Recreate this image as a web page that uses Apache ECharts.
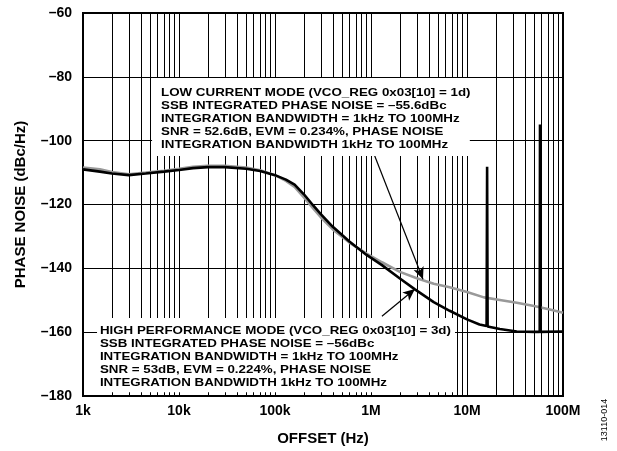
<!DOCTYPE html>
<html>
<head>
<meta charset="utf-8">
<script src="https://cdn.jsdelivr.net/npm/echarts@6/dist/echarts.min.js"></script>
<style>
  html, body { margin: 0; padding: 0; background: #fff; }
  #chart { width: 617px; height: 451px; }
</style>
</head>
<body>
<div id="chart"></div>
<script>
// High performance mode (black trace), offset frequency in Hz and phase noise in dBc/Hz
const hpFreq = [1000, 1500, 2000, 3000, 4500, 7000, 10000, 14000, 20000, 30000, 50000, 70000,
  100000, 130000, 160000, 200000, 250000, 300000, 400000, 600000, 900000, 1300000, 2000000,
  2870000, 4500000, 6600000, 10000000, 13500000, 16000000, 16200000, 16400000, 22000000,
  33000000, 50000000, 57200000, 57600000, 58000000, 100000000];
const hpNoise = [-109.0, -109.7, -110.3, -110.8, -110.3, -109.7, -109.2, -108.6, -108.3, -108.3,
  -108.8, -109.5, -110.8, -112.2, -113.8, -116.8, -120.3, -123.0, -127.0, -131.7, -135.8, -139.0,
  -143.2, -146.6, -150.6, -153.3, -156.0, -157.6, -158.1, -108.2, -158.2, -159.0,
  -159.8, -159.9, -159.9, -94.9, -159.9, -159.8];

// Low current mode (grey trace)
const lcFreq = [1000, 1500, 2000, 3000, 4500, 7000, 10000, 14000, 20000, 30000, 50000, 70000,
  100000, 130000, 160000, 200000, 250000, 300000, 400000, 600000, 900000, 1300000, 2000000,
  3000000, 4500000, 6600000, 10000000, 15000000, 22000000, 33000000, 50000000, 73000000, 100000000];
const lcNoise = [-108.4, -109.0, -109.8, -110.5, -110.0, -109.4, -108.8, -108.2, -107.9, -107.9,
  -108.4, -109.3, -110.8, -112.6, -114.5, -117.8, -121.2, -124.0, -127.8, -132.0, -135.4, -138.1,
  -141.1, -143.1, -144.8, -145.9, -147.4, -149.1, -149.9, -150.8, -151.8, -152.9, -153.9];

// Axis ticks
const xTicks = [1e3, 1e4, 1e5, 1e6, 1e7, 1e8];
const xTickLabels = ['1k', '10k', '100k', '1M', '10M', '100M'];
const yTicks = [-180, -160, -140, -120, -100, -80, -60];

// Minor log grid lines (2..9 within each decade)
const minorGrid = [];
for (let d = 3; d < 8; d++) {
  for (let m = 2; m <= 9; m++) minorGrid.push(m * Math.pow(10, d));
}

const lowCurrentText = [
  'LOW CURRENT MODE (VCO_REG 0x03[10] = 1d)',
  'SSB INTEGRATED PHASE NOISE = \u201355.6dBc',
  'INTEGRATION BANDWIDTH = 1kHz TO 100MHz',
  'SNR = 52.6dB, EVM = 0.234%, PHASE NOISE',
  'INTEGRATION BANDWIDTH 1kHz TO 100MHz'
];
const highPerfText = [
  'HIGH PERFORMANCE MODE (VCO_REG 0x03[10] = 3d)',
  'SSB INTEGRATED PHASE NOISE = \u201356dBc',
  'INTEGRATION BANDWIDTH = 1kHz TO 100MHz',
  'SNR = 53dB, EVM = 0.224%, PHASE NOISE',
  'INTEGRATION BANDWIDTH 1kHz TO 100MHz'
];

// Annotation layout in data space: box corners, text origin, arrow from/to
const lowBox = [[5240, -80.4], [10700000, -104.8]];
const lowTextAt = [6500, -85.1];
const lowArrow = [[1074000, -104.2], [3480000, -143.4]];
const highBox = [[1400, -155.6], [7500000, -178.8]];
const highTextAt = [1500, -159.6];
const highArrow = [[1300000, -155.0], [2870000, -146.5]];

const zip = (a, b) => a.map((v, i) => [v, b[i]]);
const FONT = '"Liberation Sans", Arial, Helvetica, sans-serif';

const chart = echarts.init(document.getElementById('chart'));

chart.setOption({
  animation: false,
  backgroundColor: '#fff',
  grid: {
    left: 83, right: 54, top: 13, bottom: 55,
    show: true, borderColor: '#000', borderWidth: 2, backgroundColor: 'transparent'
  },
  xAxis: {
    type: 'log', logBase: 10, min: xTicks[0], max: xTicks[xTicks.length - 1],
    name: 'OFFSET (Hz)', nameLocation: 'middle', nameGap: 35,
    nameTextStyle: { fontFamily: FONT, fontWeight: 'bold', fontSize: 15, color: '#000' },
    axisLine: { show: true, lineStyle: { color: '#000', width: 2 } },
    axisTick: { show: false },
    axisLabel: {
      margin: 8, fontFamily: FONT, fontWeight: 'bold', fontSize: 14, color: '#000',
      formatter: v => {
        const i = xTicks.findIndex(t => Math.abs(Math.log10(t) - Math.log10(v)) < 1e-6);
        return i >= 0 ? xTickLabels[i] : '';
      }
    },
    splitLine: { show: true, lineStyle: { color: '#000', width: 1 } }
  },
  yAxis: {
    type: 'value', min: yTicks[0], max: yTicks[yTicks.length - 1], interval: 20,
    name: 'PHASE NOISE (dBc/Hz)', nameLocation: 'middle', nameGap: 55, nameRotate: 90,
    nameTextStyle: { fontFamily: FONT, fontWeight: 'bold', fontSize: 15, color: '#000' },
    axisLine: { show: true, lineStyle: { color: '#000', width: 2 } },
    axisTick: { show: false },
    axisLabel: {
      margin: 11, fontFamily: FONT, fontWeight: 'bold', fontSize: 14, color: '#000',
      formatter: v => String(v).replace('-', '\u2013')
    },
    splitLine: { show: true, lineStyle: { color: '#000', width: 1 } }
  },
  series: [
    {
      name: 'LOW CURRENT', type: 'line', data: zip(lcFreq, lcNoise),
      showSymbol: false, symbol: 'none', z: 3,
      lineStyle: { color: '#999999', width: 2.6 },
      markLine: {
        silent: true, z: 1, symbol: 'none', label: { show: false },
        lineStyle: { color: '#000', width: 1, type: 'solid' },
        data: minorGrid.map(f => ({ xAxis: f }))
      }
    },
    {
      name: 'HIGH PERFORMANCE', type: 'line', data: zip(hpFreq, hpNoise),
      showSymbol: false, symbol: 'none', z: 4,
      lineStyle: { color: '#000', width: 2.6 },
      markLine: {
        silent: true, z: 6, symbol: ['none', 'arrow'], symbolSize: [8, 12],
        label: { show: false },
        lineStyle: { color: '#000', width: 1.2, type: 'solid' },
        data: [
          [{ coord: lowArrow[0] }, { coord: lowArrow[1] }],
          [{ coord: highArrow[0] }, { coord: highArrow[1] }]
        ]
      }
    }
  ]
});

// White note panel with its text; the text is drawn slightly widened
function boxGraphics(box, textAt, lines, lh) {
  const p0 = chart.convertToPixel({ gridIndex: 0 }, box[0]);
  const p1 = chart.convertToPixel({ gridIndex: 0 }, box[1]);
  const t = chart.convertToPixel({ gridIndex: 0 }, textAt);
  return [
    {
      type: 'rect', z: 10, silent: true,
      shape: { x: p0[0], y: p0[1], width: p1[0] - p0[0], height: p1[1] - p0[1] },
      style: { fill: '#fff' }
    },
    {
      type: 'text', z: 11, silent: true, x: t[0], y: t[1] - lh / 2, scaleX: 1.16,
      style: {
        text: lines.join('\n'), fill: '#000', lineHeight: lh,
        font: 'bold 11.5px ' + FONT, textVerticalAlign: 'top'
      }
    }
  ];
}

chart.setOption({
  graphic: [
    ...boxGraphics(lowBox, lowTextAt, lowCurrentText, 13),
    ...boxGraphics(highBox, highTextAt, highPerfText, 13),
    {
      type: 'text', z: 11, silent: true, x: 605, y: 420, rotation: Math.PI / 2,
      style: { text: '13110-014', fill: '#000', font: '9px ' + FONT, align: 'center', verticalAlign: 'middle' }
    }
  ]
});
</script>
</body>
</html>
